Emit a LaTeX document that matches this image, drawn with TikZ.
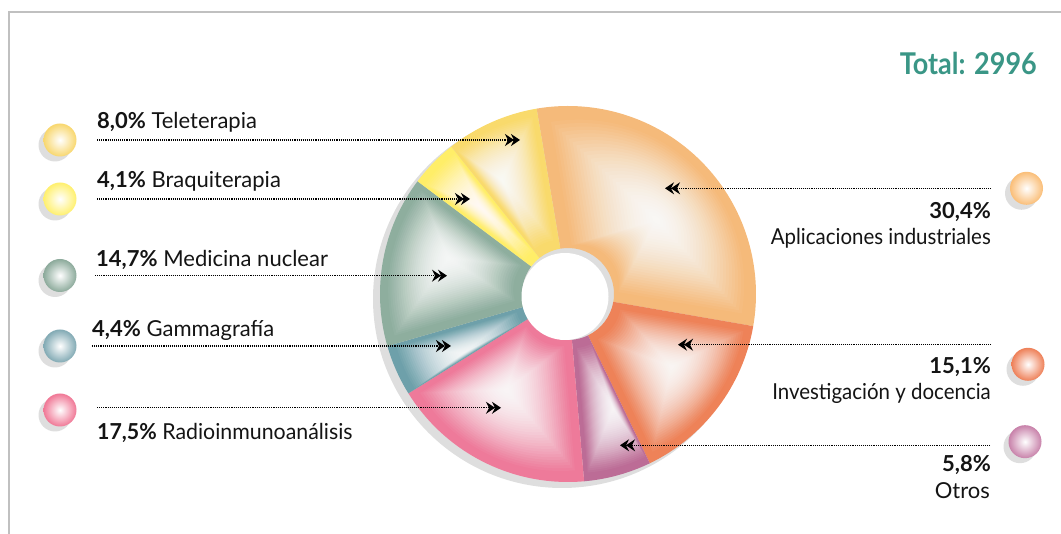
\documentclass[tikz,border=0pt]{standalone}
\usepackage{fontspec}
\setmainfont{Lato}
\usepackage{graphicx}
\usetikzlibrary{arrows.meta,shadows}
\definecolor{cApl}{RGB}{245,186,122}
\definecolor{cInv}{RGB}{238,130,88}
\definecolor{cOtr}{RGB}{188,108,150}
\definecolor{cRad}{RGB}{238,122,154}
\definecolor{cGam}{RGB}{110,160,170}
\definecolor{cMed}{RGB}{142,174,158}
\definecolor{cBra}{RGB}{255,238,104}
\definecolor{cTel}{RGB}{249,218,108}
\definecolor{bApl}{RGB}{250,190,120}
\definecolor{bInv}{RGB}{238,128,88}
\definecolor{bOtr}{RGB}{200,130,170}
\definecolor{bRad}{RGB}{240,120,150}
\definecolor{bGam}{RGB}{130,170,180}
\definecolor{bMed}{RGB}{140,170,155}
\definecolor{bBra}{RGB}{255,240,110}
\definecolor{bTel}{RGB}{248,215,110}
\definecolor{shadowgray}{RGB}{222,222,222}
\definecolor{framegray}{RGB}{192,192,192}
\definecolor{totalteal}{RGB}{58,150,134}
\newcommand{\drawslice}[5]{%
  \begin{scope}
    \clip (#1:188) arc[start angle=#1, end angle=#2, radius=188] -- (#2:46) arc[start angle=#2, end angle=#1, radius=46] -- cycle;
    \fill[#3] (-200,-200) rectangle (200,200);
    \foreach \sc in {0.88,0.85,...,0.02} {
      \pgfmathsetmacro\op{0.03+0.12*(1-\sc)}
      \fill[white, opacity=\op, scale around={\sc:(#4,#5)}] (#1:188) arc[start angle=#1, end angle=#2, radius=188] -- (#2:46) arc[start angle=#2, end angle=#1, radius=46] -- cycle;
    }
  \end{scope}}
\newcommand{\sx}[2]{\scalebox{#1}[1]{#2}}
\tikzset{
  lab/.style={font=\fontsize{22}{26}\selectfont, inner sep=0pt, text=black!92},
  ball/.style={circle, minimum size=33pt, inner sep=0pt, inner color=white, outer color=#1,
    general shadow={fill=shadowgray, shadow xshift=-5pt, shadow yshift=-5pt}},
  conn/.style={draw=black, line width=1.2pt, dash pattern=on 1.1pt off 1pt,
    -{Stealth[length=9pt,width=12pt,inset=3pt,sep=-3pt]Stealth[length=9pt,width=12pt,inset=3pt]}},
}
\begin{document}
\begin{tikzpicture}[x=1pt,y=1pt]
\useasboundingbox (0,0) rectangle (1061,534);
% frame
\draw[framegray, line width=1.3pt] (9,0) -- (9,522) -- (1061,522);
% pie shadow
\fill[shadowgray] (562,235) circle (189);
% slices
\begin{scope}[shift={(568,240)}]
  \drawslice{99.6}{-9.84}{cApl}{88.7}{74}
  \drawslice{-9.84}{-64.2}{cInv}{103.7}{-72.7}
  \drawslice{-64.2}{-85.08}{cOtr}{45.3}{-114.3}
  \drawslice{-85.08}{-148.08}{cRad}{-61.3}{-96}
  \drawslice{-148.08}{-163.92}{cGam}{-104.7}{-59.3}
  \drawslice{-163.92}{-216.84}{cMed}{-119.7}{35.7}
  \drawslice{-216.84}{-231.6}{cBra}{-88}{87.3}
  \drawslice{-231.6}{-260.4}{cTel}{-66.3}{114}
\end{scope}
% hole
\fill[white] (565,237.5) circle (43.5);
% balls
\node[ball=bTel] (bTele) at (60,394) {};
\node[ball=bBra] (bBraq) at (60,335) {};
\node[ball=bMed] (bMedi) at (60,258.5) {};
\node[ball=bGam] (bGamm) at (60,188) {};
\node[ball=bRad] (bRadi) at (60,124) {};
\node[ball=bApl] (bApli) at (1026.5,345.7) {};
\node[ball=bInv] (bInve) at (1028,169.7) {};
\node[ball=bOtr] (bOtro) at (1025,92.3) {};
% texts
\node[lab, anchor=base west] (tTele) at (97,405.7) {\textbf{8,0\%} Teleterapia};
\node[lab, anchor=base west] (tBraq) at (97,346.7) {\textbf{4,1\%} Braquiterapia};
\node[lab, anchor=base west] (tMedi) at (96,267.3) {\textbf{14,7\%} Medicina nuclear};
\node[lab, anchor=base west] (tGamm) at (92,197.3) {\textbf{4,4\%} Gammagrafía};
\node[lab, anchor=base west] (tRadi) at (97,94) {\sx{0.97}{\textbf{17,5\%} Radioinmunoanálisis}};
\node[lab, anchor=base east] (pApli) at (991,315.7) {\textbf{30,4\%}};
\node[lab, anchor=base east] (tApli) at (991,289) {\sx{0.93}{Aplicaciones industriales}};
\node[lab, anchor=base east] (pInve) at (991,160.7) {\textbf{15,1\%}};
\node[lab, anchor=base east] (tInve) at (991,134.7) {\sx{0.93}{Investigación y docencia}};
\node[lab, anchor=base east] (pOtro) at (991,62.3) {\textbf{5,8\%}};
\node[lab, anchor=base east] (tOtro) at (990,35.7) {Otros};
\node[font=\fontsize{30}{36}\selectfont\bfseries, text=totalteal, inner sep=0pt, anchor=base east] (total) at (1037,459) {\sx{0.9}{Total: 2996}};
% connectors
\coordinate (sTele) at (97,394);   \coordinate (eTele) at (520,394);
\coordinate (sBraq) at (97,335);   \coordinate (eBraq) at (470,335);
\coordinate (sMedi) at (95,258.3); \coordinate (eMedi) at (447,258.3);
\coordinate (sGamm) at (92,188);   \coordinate (eGamm) at (451,188);
\coordinate (sRadi) at (97,126.2); \coordinate (eRadi) at (501,126.2);
\coordinate (sApli) at (991,345.7); \coordinate (eApli) at (665,345.7);
\coordinate (sInve) at (991,189.3); \coordinate (eInve) at (678,189.3);
\coordinate (sOtro) at (990,88.7);  \coordinate (eOtro) at (620,88.7);
\foreach \n in {Tele,Braq,Medi,Gamm,Radi,Apli,Inve,Otro}
  \draw[conn] (s\n) -- (e\n);
\end{tikzpicture}
\end{document}
